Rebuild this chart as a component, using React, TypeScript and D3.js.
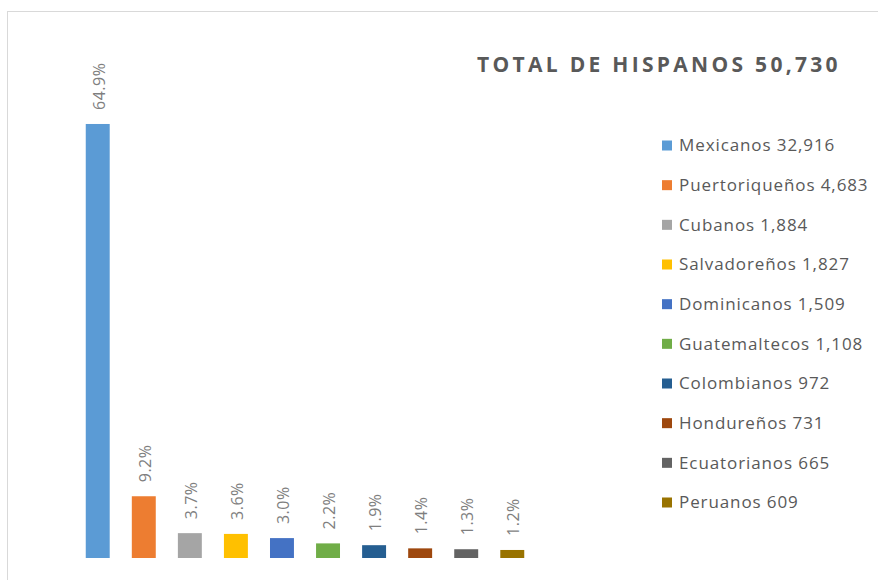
import React from "react";
import * as d3 from "d3";

const categories = ["Mexicanos", "Puertoriqueños", "Cubanos", "Salvadoreños", "Dominicanos", "Guatemaltecos", "Colombianos", "Hondureños", "Ecuatorianos", "Peruanos"];
const values = [32916, 4683, 1884, 1827, 1509, 1108, 972, 731, 665, 609];
const colors = ["#5B9BD5", "#ED7D31", "#A5A5A5", "#FFC000", "#4472C4", "#70AD47", "#255E91", "#9E480E", "#636363", "#997300"];
const total = 50730;
const titleText = "TOTAL DE HISPANOS";

const W = 878;
const H = 580;
const FONT = "'Open Sans', 'DejaVu Sans', sans-serif";

export default function App() {
  const x = d3.scaleBand<string>().domain(categories).range([74.7, 535.3]).paddingInner(0.48).paddingOuter(0.24);
  const y = d3.scaleLinear().domain([0, 35000]).range([558, 96.5]);
  const fmt = d3.format(",");
  const pct = (v: number) => d3.format(".1f")((v / total) * 100) + "%";
  const legendY = d3.scalePoint<string>().domain(categories).range([145.5, 502.5]);

  return (
    <svg width={W} height={H} style={{ position: "absolute", left: 0, top: 0, background: "#fff" }}>
      <rect x={7.5} y={11.5} width={W + 20} height={H + 20} fill="#fff" stroke="#d9d9d9" strokeWidth={1} />
      <text x={477} y={72} fontFamily={FONT} fontSize={21} fontWeight="bold" fill="#595959" letterSpacing={3.3}>
        {titleText + " " + fmt(total)}
      </text>
      {categories.map((c, i) => {
        const bx = x(c)!;
        const bw = x.bandwidth();
        const top = y(values[i]);
        const cx = bx + bw / 2;
        return (
          <g key={c}>
            <rect x={bx} y={top} width={bw} height={y(0) - top} fill={colors[i]} />
            <text
              transform={`translate(${cx + 1.5},${top - 14}) rotate(-90)`}
              fontFamily={FONT}
              fontSize={16}
              fill="#7f7f7f"
              dy="0.35em"
              letterSpacing={0.5}
            >
              {pct(values[i])}
            </text>
          </g>
        );
      })}
      {categories.map((c, i) => {
        const ly = legendY(c)!;
        return (
          <g key={"l" + c}>
            <rect x={662} y={ly - 5} width={10} height={10} fill={colors[i]} />
            <text x={679} y={ly} dy="0.35em" fontFamily={FONT} fontSize={17} fill="#595959" letterSpacing={0.9}>
              {c + " " + fmt(values[i])}
            </text>
          </g>
        );
      })}
    </svg>
  );
}
